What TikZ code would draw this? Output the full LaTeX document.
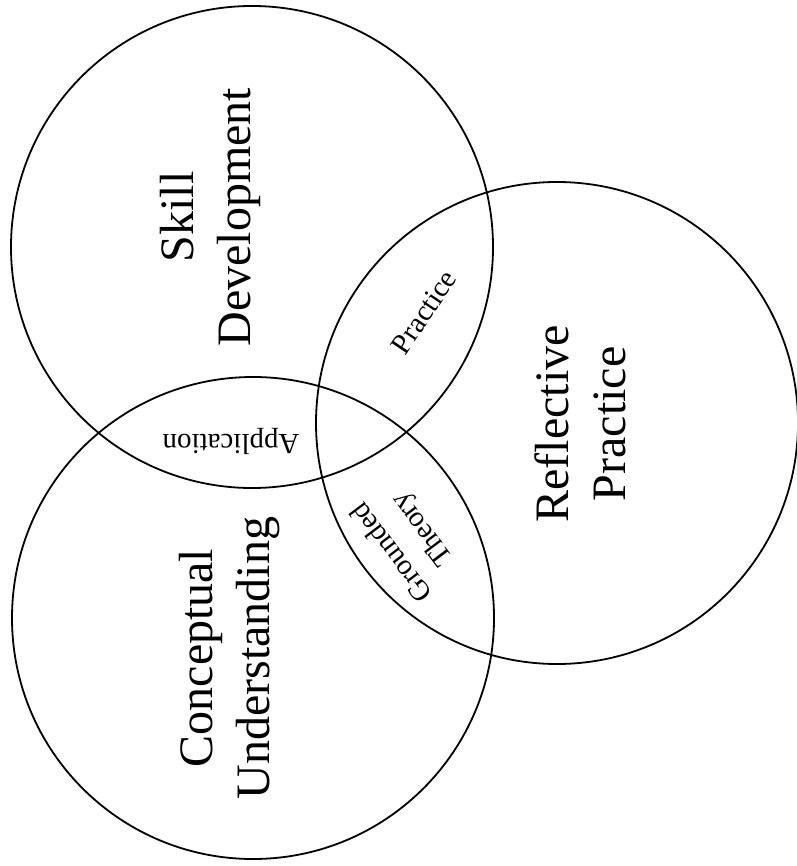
\documentclass[tikz,border=0pt]{standalone}
\usepackage{fontspec}
\setmainfont{Liberation Serif}

\begin{document}
\begin{tikzpicture}
    [
      x=1pt, y=-1pt,
      area/.style=
        {
          circle,
          draw=black,
          line width=1.8pt,
          minimum size=482pt,
          inner sep=0pt,
        },
      main label/.style=
        {
          align=center,
          font=\fontsize{48}{57}\selectfont,
          rotate=90,
        },
      overlap label/.style=
        {
          align=center,
          font=\fontsize{29}{38}\selectfont,
        },
    ]
    \useasboundingbox (0,0) rectangle (796,866);
    \node[area] (skill)      at (252,247) {};
    \node[area] (reflective) at (557,423) {};
    \node[area] (conceptual) at (253,618) {};

    \node[main label] (skill text)      at (210,217) {Skill\\Development};
    \node[main label] (reflective text) at (580,424) {Reflective\\Practice};
    \node[main label] (conceptual text) at (230,658) {Conceptual\\Understanding};

    \node[overlap label, rotate=56]  (practice)    at (424,312) {Practice};
    \node[overlap label, rotate=180] (application) at (231,441) {Application};
    \node[overlap label, rotate=127] (grounded)    at (408,540) {Grounded\\Theory};
  \end{tikzpicture}
\end{document}
